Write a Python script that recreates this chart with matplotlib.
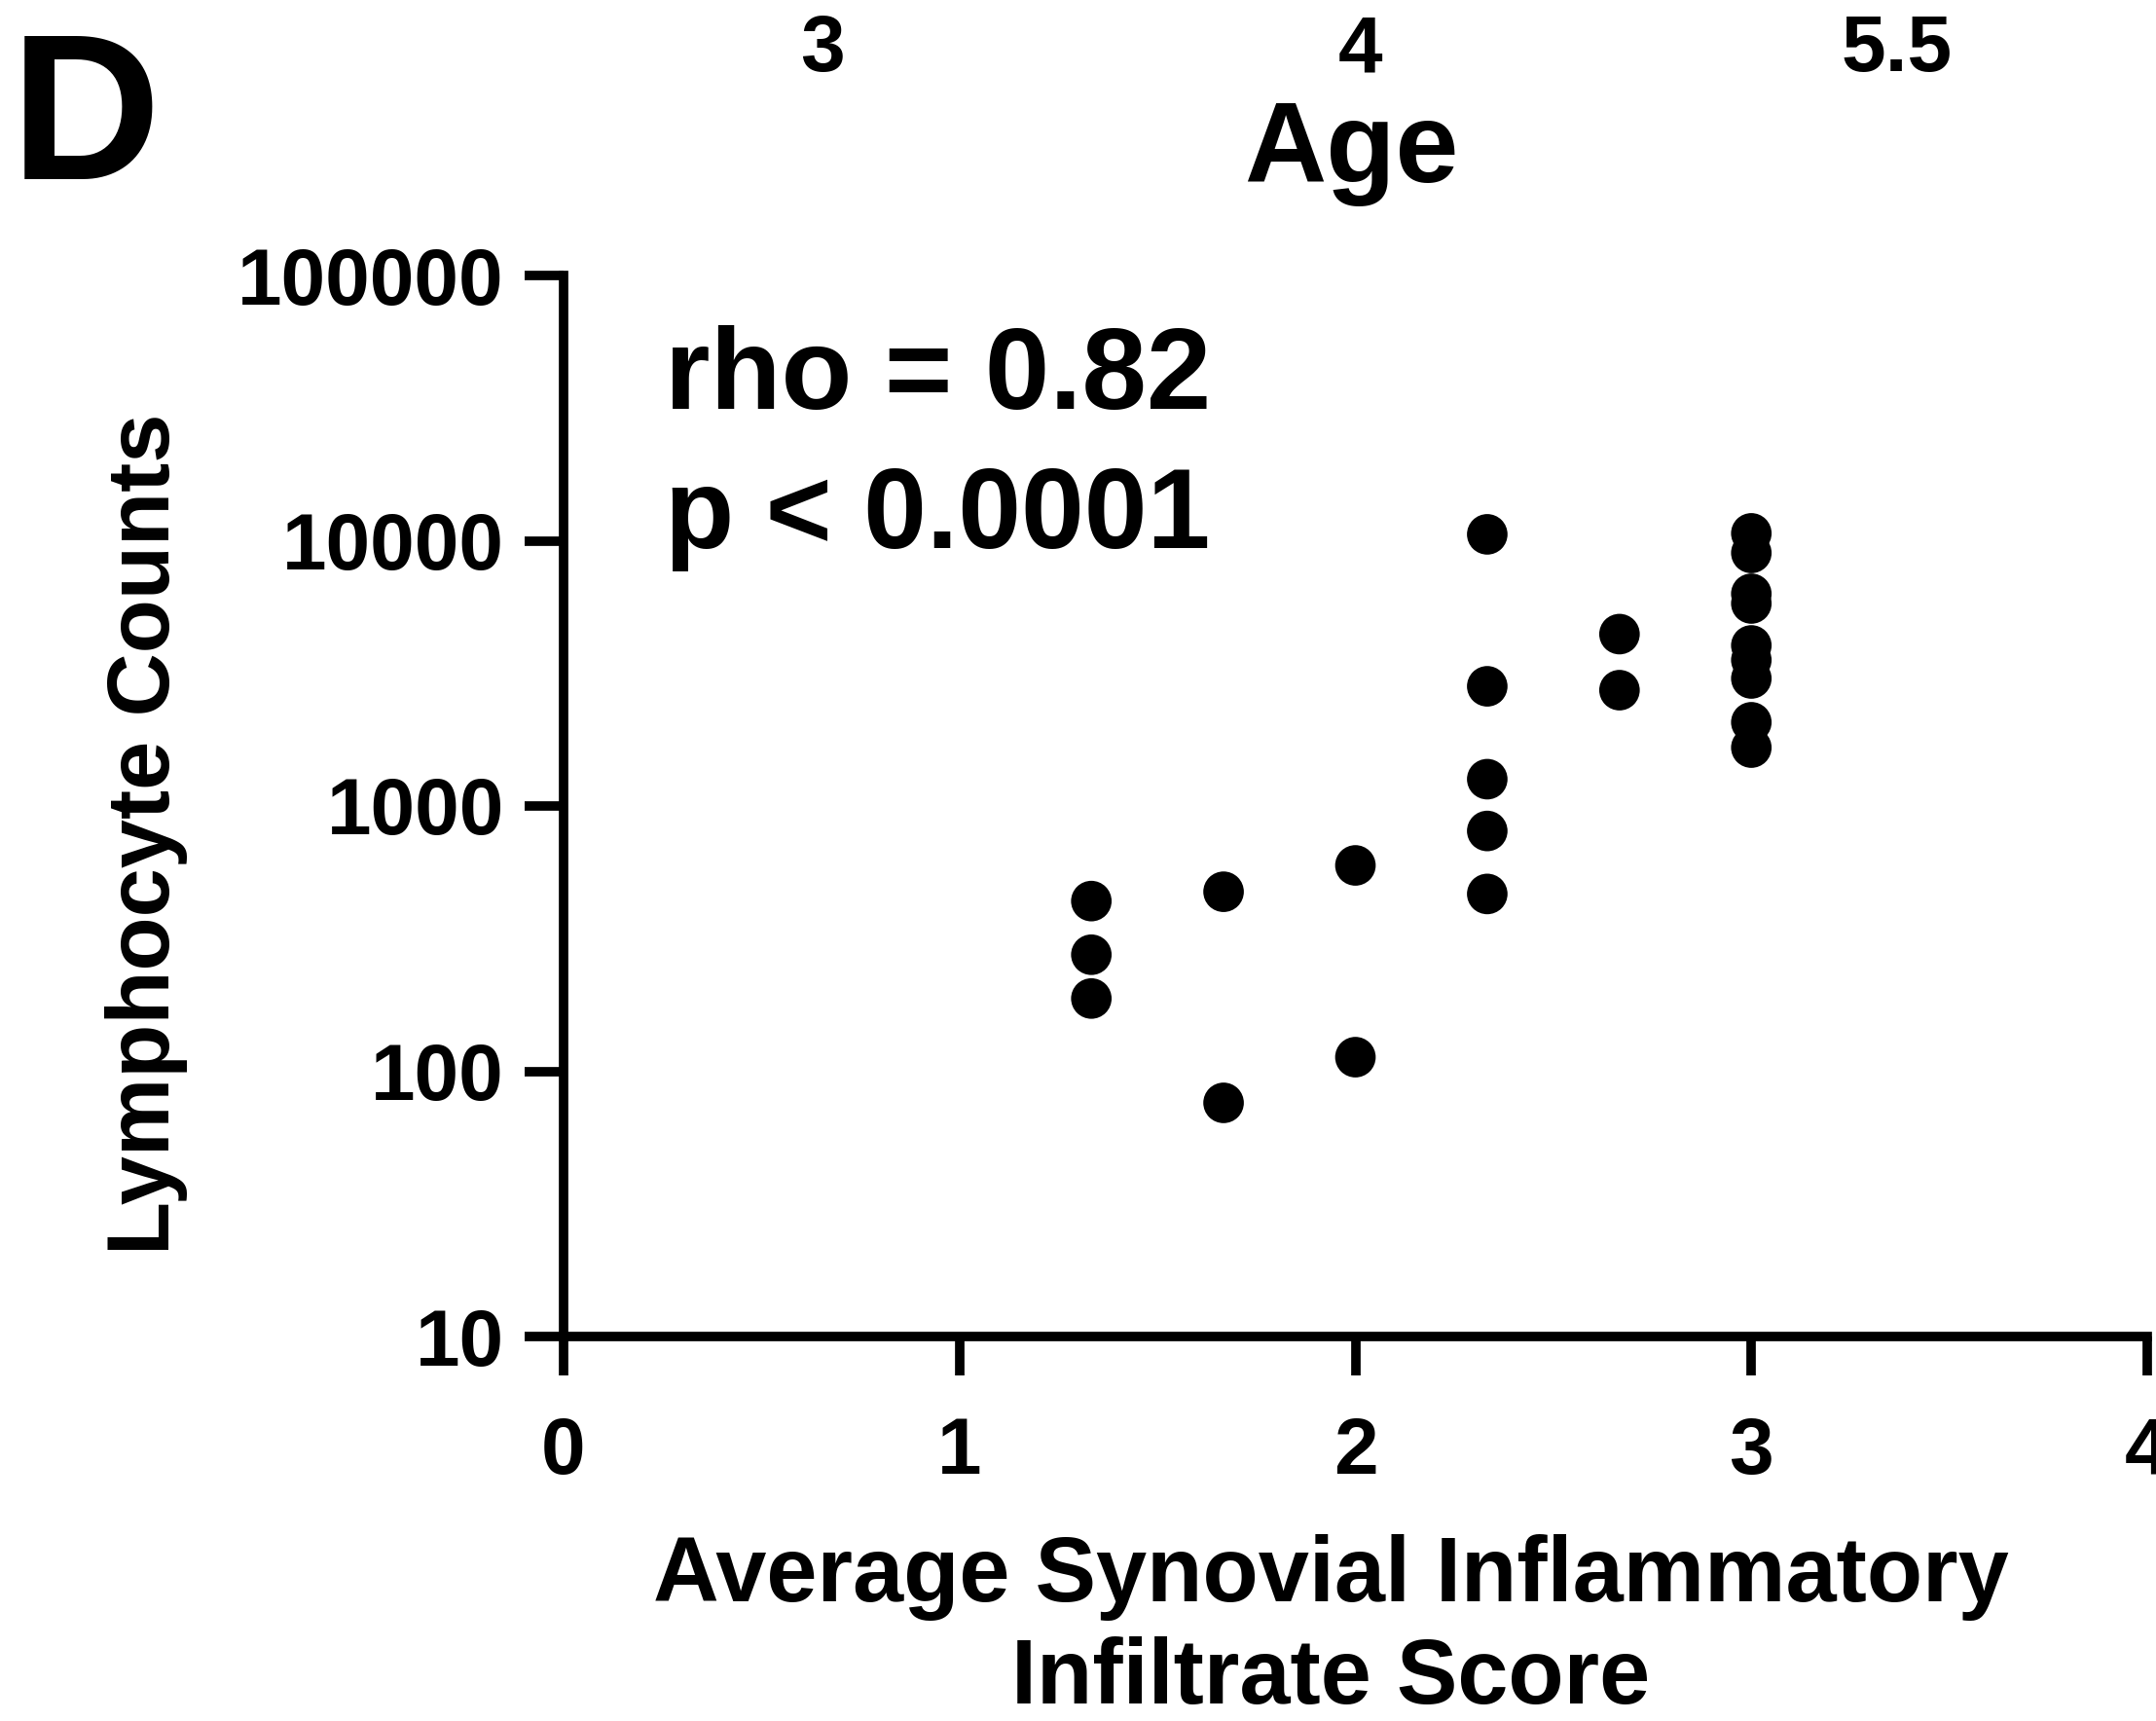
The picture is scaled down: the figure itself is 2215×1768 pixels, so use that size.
import matplotlib
matplotlib.use("Agg")
import matplotlib.pyplot as plt
from matplotlib.ticker import FixedLocator, FixedFormatter, NullLocator

plt.rcParams['font.family'] = ['Liberation Sans', 'DejaVu Sans']
plt.rcParams['font.weight'] = 'bold'

# Data
score_groups = [1.333, 1.667, 2.0, 2.333, 2.667, 3.0]
counts_g1 = [438, 275, 188]
counts_g2 = [475, 76]
counts_g3 = [597, 113]
counts_g4 = [10570, 2826, 1262, 805, 466]
counts_g5 = [4446, 2733]
counts_g6 = [10660, 8995, 6310, 5800, 4030, 3550, 3025, 2068, 1660]
all_counts = [counts_g1, counts_g2, counts_g3, counts_g4, counts_g5, counts_g6]

x_ticks = [0, 1, 2, 3, 4]
y_ticks = [10, 100, 1000, 10000, 100000]
y_tick_labels = ["10", "100", "1000", "10000", "100000"]
top_age_labels = ["3", "4", "5.5"]

W, H = 2215, 1768
dpi = 100
fig = plt.figure(figsize=(W / dpi, H / dpi), dpi=dpi)
ax = fig.add_axes([579 / W, 1 - 1373 / H, (2206 - 579) / W, (1373 - 283) / H])

xs, ys = [], []
for xv, grp in zip(score_groups, all_counts):
    for v in grp:
        xs.append(xv)
        ys.append(v)
ax.scatter(xs, ys, s=900, c='black', edgecolors='none', zorder=3, clip_on=False)

ax.set_yscale('log')
ax.set_xlim(0, 4)
ax.set_ylim(10, 100000)
ax.xaxis.set_major_locator(FixedLocator(x_ticks))
ax.set_xticklabels([str(t) for t in x_ticks])
ax.yaxis.set_major_locator(FixedLocator(y_ticks))
ax.yaxis.set_major_formatter(FixedFormatter(y_tick_labels))
ax.yaxis.set_minor_locator(NullLocator())

for side in ['top', 'right']:
    ax.spines[side].set_visible(False)
for side in ['left', 'bottom']:
    ax.spines[side].set_linewidth(7)
    ax.spines[side].set_capstyle('projecting')

ax.tick_params(axis='both', which='major', length=29, width=7, color='black')
ax.tick_params(axis='y', labelsize=59, pad=15)
ax.tick_params(axis='x', labelsize=59, pad=30)
for lab in ax.get_xticklabels() + ax.get_yticklabels():
    lab.set_fontweight('bold')
    lab.set_clip_on(False)

# Annotation
fig.text(683 / W, 1 - 420 / H, "rho = 0.82", fontsize=86, fontweight='bold',
         ha='left', va='baseline')
fig.text(683 / W, 1 - 563 / H, "p < 0.0001", fontsize=84, fontweight='bold',
         ha='left', va='baseline')

# Axis labels
fig.text(151 / W, 1 - 857 / H, "Lymphocyte Counts", fontsize=65, fontweight='bold',
         rotation=90, ha='center', va='center')
fig.text(1367 / W, 1 - 1645 / H, "Average Synovial Inflammatory", fontsize=67.5,
         fontweight='bold', ha='center', va='baseline')
fig.text(1367 / W, 1 - 1750 / H, "Infiltrate Score", fontsize=67.5,
         fontweight='bold', ha='center', va='baseline')

# Remnants of the panel above
for lbl, xp in zip(top_age_labels, [845, 1398, 1949]):
    fig.text(xp / W, 1 - 73 / H, lbl, fontsize=59, fontweight='bold',
             ha='center', va='baseline')
fig.text(1388 / W, 1 - 187 / H, "Age", fontsize=84, fontweight='bold',
         ha='center', va='baseline')

# Panel label
fig.text(11 / W, 1 - 184 / H, "D", fontsize=154, fontweight='bold',
         ha='left', va='baseline')

fig.savefig("out.png", dpi=dpi)
